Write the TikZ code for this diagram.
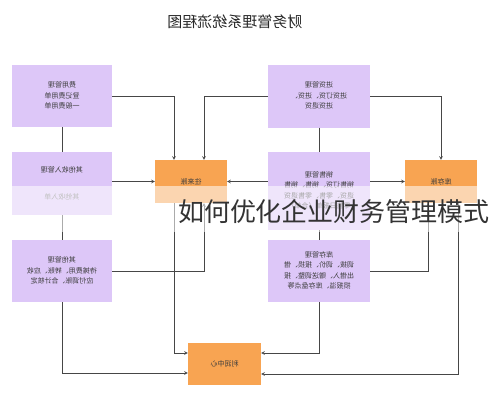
\documentclass[tikz,border=0pt]{standalone}
\usepackage{fontspec}
\setmainfont{Noto Sans CJK SC}
\usetikzlibrary{arrows}

\definecolor{lav}{RGB}{221,199,248}
\definecolor{org}{RGB}{248,164,82}
\definecolor{ln}{RGB}{70,70,70}
\definecolor{txt}{RGB}{60,60,60}
\newcommand{\flip}[1]{\scalebox{-1}[1]{#1}}
\newcommand{\fliplines}[1]{\flip{\begin{tabular}{@{}c@{}}#1\end{tabular}}}

\begin{document}
\begin{tikzpicture}[x=1pt,y=-1pt,>=stealth,
    mgr/.style={rectangle, fill=lav, text=txt, inner sep=0pt, minimum width=100pt, font=\fontsize{7}{10.5}\selectfont},
    acct/.style={rectangle, fill=org, text=txt, inner sep=0pt, minimum width=72pt, minimum height=43pt, font=\fontsize{7}{9}\selectfont},
    link/.style={draw=ln, line width=0.6pt}]
        \useasboundingbox (0,0) rectangle (491,400);
        \node (title) [text=black!85, font=\fontsize{15}{17}\selectfont] at (235,22) {\flip{财务管理系统流程图}};

        \node (fee) [mgr, minimum height=62pt] at (62,96) {\fliplines{费用管理\\登记费用单\\一般费用单}};
        \node (purchase) [mgr, minimum width=102pt, minimum height=63pt] at (319,96) {\fliplines{进货管理\\进货订货、进货、\\进货退货}};
        \node (income) [mgr, minimum height=63pt] at (62,183.5) {};
        \node (incometop) [font=\fontsize{7}{9}\selectfont, text=txt] at (62,170) {\flip{其他收入管理}};
        \node (incomebot) [font=\fontsize{7}{9}\selectfont, text=txt!70] at (62,197) {\flip{其他收入单}};
        \node (ledger) [acct] at (191,181.5) {\flip{往来账}};
        \node (sales) [mgr, minimum width=102pt, minimum height=78pt] at (319,191) {\fliplines{销售管理\\销售订货、销售、销售\\退货、零售、零售退货\\零售日报单（合单）}};
        \node (stock) [acct] at (441,181.5) {\flip{库存账}};
        \node (other) [mgr, minimum height=62pt] at (62,271) {\fliplines{其他管理\\待摊费用、转账、应收\\应付调账、合计核定}};
        \node (store) [mgr, minimum width=102pt, minimum height=62pt] at (319,271) {\fliplines{库存管理\\调拨、调价、报损、借\\出借入、赠送调整、报\\损报溢、库存盘点等}};
        \node (profit) [acct, minimum width=73pt, minimum height=42pt] at (224.5,364) {\flip{利润中心}};

        % plain links between the management boxes
        \draw[link] (fee) -- (income);
        \draw[link] (income) -- (other);
        \draw[link] (purchase) -- (sales);
        \draw[link] (sales) -- (store);

        % into the two ledgers
        \draw[link,->] (fee.east) -| ([xshift=-17pt]ledger.north);
        \draw[link,->] (purchase.west) -| ([xshift=13pt]ledger.north);
        \draw[link,->] (purchase.east) -| (stock.north);
        \draw[link,->] (income.east |- ledger.west) -- (ledger.west);
        \draw[link,->] (sales.west |- ledger.east) -- (ledger.east);
        \draw[link,->] (sales.east |- stock.west) -- (stock.west);
        \draw[link,->] (other.east) -| ([xshift=13pt]ledger.south);
        \draw[link,->] (store.east) -| ([xshift=-13pt]stock.south);

        % into the profit centre
        \draw[link,->] ([xshift=-17pt]ledger.south) |- ([yshift=11pt]profit.west);
        \draw[link,->] (other.south) |- ([yshift=-9pt]profit.west);
        \draw[link,->] (store.south) |- ([yshift=11pt]profit.east);
        \draw[link,->] ([xshift=17pt]stock.south) |- ([yshift=-10pt]profit.east);

        % watermark band
        \fill[white, opacity=0.55] (0,186) rectangle (491,232);
        \node (mark) [text=black!80, font=\fontsize{26}{29}\selectfont, inner sep=0pt] at (334,212) {如何优化企业财务管理模式};
    \end{tikzpicture}
\end{document}
